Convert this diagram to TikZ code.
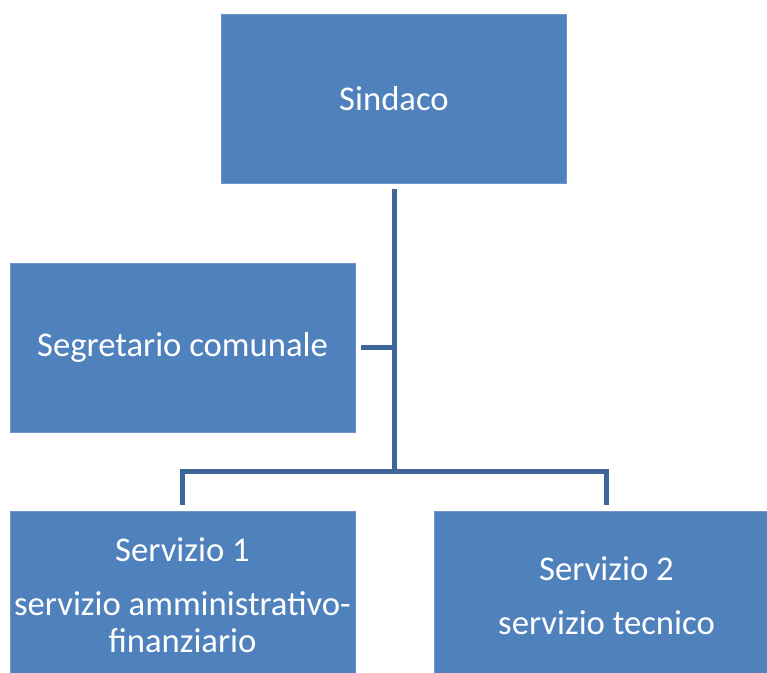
\documentclass[tikz,border=0pt]{standalone}
\usepackage{fontspec}
\setmainfont{Carlito}
\definecolor{boxblue}{HTML}{4F81BD}
\definecolor{boxedge}{HTML}{6E97CB}
\definecolor{linkblue}{HTML}{3E6597}
\begin{document}
\begin{tikzpicture}[x=0.75pt,y=-0.75pt,
  orgbox/.style={rectangle, fill=boxblue, draw=boxedge, line width=0.5pt,
    minimum width=258.75pt, minimum height=126.75pt, inner sep=0pt,
    text=white, align=center, font=\fontsize{26}{28}\selectfont},
  conn/.style={draw=linkblue, line width=3.75pt}]
\useasboundingbox (0,0) rectangle (767,673);
\node[orgbox] (sindaco) at (394,98.5) {Sindaco};
\node[orgbox] (seg) at (182.5,347.5) {Segretario comunale};
\node[orgbox] (s1) at (182.5,595.5) {Servizio 1\\[12.5pt]servizio amministrativo-\\finanziario};
\node[orgbox] (s2) at (606.5,595.5) {Servizio 2\\[12.5pt]servizio tecnico};
\coordinate (j) at (394,471);
\draw[conn] ([yshift=-4.5pt]sindaco.south) -- (j);
\draw[conn] ([xshift=4.5pt]seg.east) -- (seg.east -| j);
\draw[conn] ([yshift=4.5pt]s1.north) |- (j) -| ([yshift=4.5pt]s2.north);
\end{tikzpicture}
\end{document}
